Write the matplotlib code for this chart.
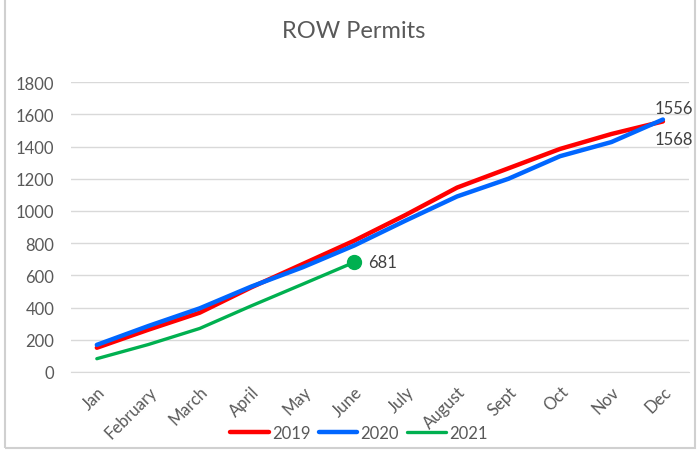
import matplotlib.pyplot as plt
from matplotlib.patches import Rectangle

months = ['Jan', 'February', 'March', 'April', 'May', 'June', 'July',
          'August', 'Sept', 'Oct', 'Nov', 'Dec']
permits_2019 = [150, 262, 368, 525, 670, 815, 975, 1145, 1265, 1385, 1478, 1556]
permits_2020 = [168, 285, 395, 530, 650, 785, 940, 1090, 1200, 1340, 1428, 1568]
permits_2021 = [82, 170, 270, 410, 545, 681]

plt.rcParams['font.family'] = ['Lato', 'DejaVu Sans']

fig = plt.figure(figsize=(6.97, 4.52), dpi=100)
ax = fig.add_axes([0.102, 0.175, 0.886, 0.641])

x = list(range(len(months)))
ax.plot(x, permits_2019, color='#ff0000', lw=3.2, label='2019', solid_capstyle='round')
ax.plot(x, permits_2020, color='#0066ff', lw=3.2, label='2020', solid_capstyle='round')
ax.plot(x[:len(permits_2021)], permits_2021, color='#00b050', lw=2.4, label='2021',
        solid_capstyle='round')
ax.plot(x[len(permits_2021) - 1], permits_2021[-1], 'o', color='#00b050', ms=10)

# data labels
ax.annotate(str(permits_2021[-1]), (x[5], permits_2021[-1]), xytext=(10, 0),
            textcoords='offset points', va='center', ha='left', fontsize=12, color='#404040')
ax.annotate(str(permits_2019[-1]), (x[-1], permits_2019[-1]), xytext=(8, 10),
            textcoords='offset points', va='center', ha='center', fontsize=12, color='#404040')
ax.annotate(str(permits_2020[-1]), (x[-1], permits_2020[-1]), xytext=(8, -14),
            textcoords='offset points', va='center', ha='center', fontsize=12, color='#404040')

ax.set_xlim(-0.5, len(months) - 0.5)
ax.set_ylim(0, 1800)
ax.set_yticks(range(0, 1801, 200))
ax.set_xticks(x)
ax.set_xticklabels(months, rotation=45, ha='right', rotation_mode='anchor')
ax.tick_params(axis='both', length=0, labelsize=12, colors='#595959')
ax.tick_params(axis='x', pad=8)
ax.tick_params(axis='y', pad=12)
ax.grid(axis='y', color='#d9d9d9', lw=1)
ax.set_axisbelow(True)
for s in ['top', 'right', 'left']:
    ax.spines[s].set_visible(False)
ax.spines['bottom'].set_color('#d9d9d9')

fig.text(0.507, 0.93, 'ROW Permits', ha='center', va='center', fontsize=17, color='#595959')

fig.legend(loc='lower center', bbox_to_anchor=(0.515, -0.01), ncol=3, frameon=False,
           fontsize=12, handlelength=2.3, handletextpad=0.2, columnspacing=0.5,
           labelcolor='#595959')

# chart border
fig.patches.append(Rectangle((0.007, 0.006), 0.99, 1.2, transform=fig.transFigure,
                             fill=False, edgecolor='#d0d0d0', lw=1.5))

fig.savefig('out.png', dpi=100)
